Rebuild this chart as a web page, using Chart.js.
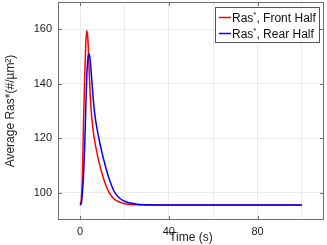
<!DOCTYPE html>
<html>
<head>
<meta charset="utf-8">
<script src="https://cdn.jsdelivr.net/npm/chart.js@4/dist/chart.umd.min.js"></script>
<style>
  html, body { margin: 0; padding: 0; background: #fff; }
  #wrap { width: 327px; height: 245px; }
</style>
</head>
<body>
<div id="wrap"><canvas id="c" width="327" height="245"></canvas></div>
<script>
// time (s) and average active Ras density in each half
const times     = [0, 0.5, 1, 1.5, 2, 2.5, 3, 3.5, 4, 4.5, 5, 5.5, 6, 6.5, 7, 8, 9, 10, 11, 12, 13, 14, 15, 16, 18, 20, 25, 30, 40, 50, 60, 70, 80, 90, 100];
const frontHalf = [95.5, 97.5, 106, 126, 141, 154, 159.5, 156, 146, 136.5, 130, 125.5, 122, 119.3, 117, 113, 109.7, 106.7, 104.1, 101.9, 100.2, 98.9, 98, 97.3, 96.5, 96, 95.6, 95.5, 95.5, 95.5, 95.5, 95.5, 95.5, 95.5, 95.5];
const rearHalf  = [95.5, 96, 100, 106, 116, 130, 143, 149.5, 151, 149, 144, 138.5, 133.5, 129.5, 126.5, 121.8, 117.8, 114.2, 111, 108, 105.3, 103, 101, 99.6, 97.9, 96.9, 95.9, 95.6, 95.5, 95.5, 95.5, 95.5, 95.5, 95.5, 95.5];

const seriesLabels = ['Front Half', 'Rear Half'];
const seriesColors = ['#ff0000', '#0000ff'];

const xGridValues  = [0, 20, 40, 60, 80, 100];
const xLabelValues = [0, 40, 80];
const yTickValues  = [100, 120, 140, 160];

const FONT = '"Liberation Sans", Arial, sans-serif';

// frame, inward tick marks and the boxed legend (COMSOL style)
const framePlugin = {
  id: 'frame',
  afterDraw(chart) {
    const { ctx, chartArea: a, scales } = chart;
    ctx.save();
    ctx.strokeStyle = '#6e6e6e';
    ctx.lineWidth = 1;
    ctx.strokeRect(a.left + 0.5, a.top + 0.5, a.right - a.left - 1, a.bottom - a.top - 1);
    ctx.beginPath();
    for (const v of yTickValues) {
      const y = Math.round(scales.y.getPixelForValue(v)) + 0.5;
      ctx.moveTo(a.left, y); ctx.lineTo(a.left + 4, y);
      ctx.moveTo(a.right, y); ctx.lineTo(a.right - 4, y);
    }
    for (const v of xLabelValues) {
      const x = Math.round(scales.x.getPixelForValue(v)) + 0.5;
      ctx.moveTo(x, a.top); ctx.lineTo(x, a.top + 4);
      ctx.moveTo(x, a.bottom); ctx.lineTo(x, a.bottom - 4);
    }
    ctx.stroke();

    // legend box
    const bx = a.right - 109, by = a.top + 5, bw = 104, bh = 35;
    ctx.fillStyle = '#fff';
    ctx.fillRect(bx, by, bw, bh);
    ctx.strokeStyle = '#555';
    ctx.strokeRect(bx + 0.5, by + 0.5, bw, bh);
    seriesLabels.forEach((lab, i) => {
      const y = by + 10.5 + i * 16;
      ctx.strokeStyle = seriesColors[i];
      ctx.lineWidth = 1.5;
      ctx.beginPath();
      ctx.moveTo(bx + 4, y); ctx.lineTo(bx + 16, y);
      ctx.stroke();
      ctx.fillStyle = '#111';
      ctx.textBaseline = 'middle';
      ctx.font = '12px ' + FONT;
      let tx = bx + 17;
      ctx.fillText('Ras', tx, y + 1);
      tx += ctx.measureText('Ras').width;
      ctx.font = '8px ' + FONT;
      ctx.fillText('*', tx, y - 3);
      tx += ctx.measureText('*').width;
      ctx.font = '12px ' + FONT;
      ctx.fillText(', ' + lab, tx, y + 1);
    });
    ctx.restore();
  }
};

new Chart(document.getElementById('c'), {
  type: 'line',
  data: {
    datasets: [
      {
        label: 'Ras*, ' + seriesLabels[0],
        data: times.map((t, i) => ({ x: t, y: frontHalf[i] })),
        borderColor: seriesColors[0],
        borderWidth: 1.5,
        pointRadius: 0,
        cubicInterpolationMode: 'monotone',
        order: 1
      },
      {
        label: 'Ras*, ' + seriesLabels[1],
        data: times.map((t, i) => ({ x: t, y: rearHalf[i] })),
        borderColor: seriesColors[1],
        borderWidth: 1.5,
        pointRadius: 0,
        cubicInterpolationMode: 'monotone',
        order: 0
      }
    ]
  },
  options: {
    responsive: false,
    animation: false,
    layout: { padding: { top: 2, right: 3, left: 0, bottom: 0 } },
    plugins: { legend: { display: false }, tooltip: { enabled: false } },
    scales: {
      x: {
        type: 'linear',
        min: -10,
        max: 110,
        afterBuildTicks: (s) => { s.ticks = xGridValues.map(v => ({ value: v })); },
        afterFit: (s) => { s.height = 25; s.paddingLeft = 0; s.paddingRight = 0; },
        ticks: {
          autoSkip: false,
          maxRotation: 0,
          padding: 5,
          color: '#222',
          font: { family: FONT, size: 11 },
          callback: (v) => xLabelValues.includes(v) ? String(v) : ''
        },
        grid: { color: '#ebebeb', drawTicks: false },
        border: { display: false },
        title: {
          display: true,
          text: 'Time (s)',
          color: '#222',
          font: { family: FONT, size: 12 },
          padding: { top: 0, bottom: 0 }
        }
      },
      y: {
        min: 90,
        max: 170,
        afterBuildTicks: (s) => { s.ticks = yTickValues.map(v => ({ value: v })); },
        afterFit: (s) => { s.width = 58; s.paddingTop = 0; s.paddingBottom = 0; },
        ticks: {
          padding: 6,
          color: '#222',
          font: { family: FONT, size: 11 }
        },
        grid: { color: '#ebebeb', drawTicks: false },
        border: { display: false },
        title: {
          display: true,
          text: 'Average Ras*(#/µm²)',
          color: '#222',
          font: { family: FONT, size: 12 },
          padding: { top: 3, bottom: 0 }
        }
      }
    }
  },
  plugins: [framePlugin]
});
</script>
</body>
</html>
